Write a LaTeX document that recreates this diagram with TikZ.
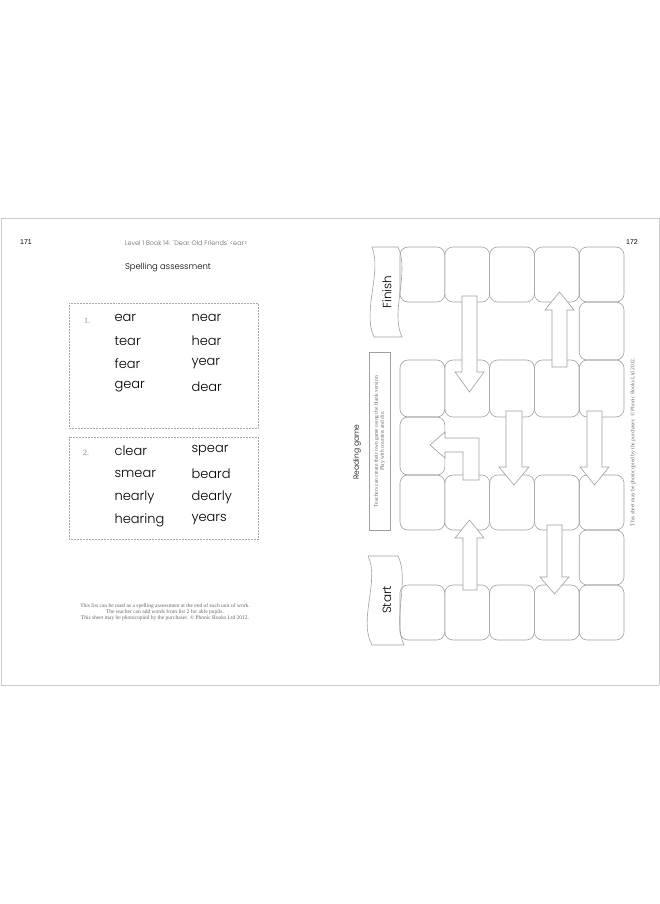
\documentclass[tikz,border=0pt]{standalone}
\usepackage{fontspec}
\setmainfont{Poppins}
\newfontfamily\tnr{Liberation Serif}
\newfontfamily\ars{Liberation Sans}
\tikzset{
  sq/.style={draw=gray!75, line width=0.6pt, rounded corners=8pt},
  blk/.style={draw=gray!75, line width=0.6pt, fill=white, line join=miter},
  word/.style={anchor=west, font=\fontsize{13}{15}\selectfont\light},
  tiny/.style={font=\tnr\fontsize{5.5}{7}\selectfont, text=gray!80!black, align=center},
  lbox/.style={draw=gray!70, densely dotted, line width=0.5pt},
}
\newcommand{\light}{\fontspec{Poppins Light}}
\begin{document}
\begin{tikzpicture}[x=1pt,y=-1pt]
\useasboundingbox (0,0) rectangle (660,904);
% page frame
\draw[gray!40, line width=0.8pt] (1,218) -- (659,218) (1,685) -- (659,685) (1,218) -- (1,685) (659,218) -- (659,685);
% left page
\node[font=\ars\fontsize{7}{8}\selectfont] (p171) at (26,242) {171};
\node[font=\fontsize{6.5}{8}\selectfont\light, text=gray!80!black] (head) at (186,243) {Level 1 Book 14: `Dear Old Friends' <ear>};
\node[font=\fontsize{8.5}{10}\selectfont\light] (title) at (168,267) {Spelling assessment};
\draw[lbox] (69,303) rectangle (258,428);
\draw[lbox] (69,437) rectangle (258,539);
\node[font=\tnr\fontsize{8}{9}\selectfont, text=gray] (n1) at (87,321) {1.};
\node[font=\tnr\fontsize{8}{9}\selectfont, text=gray] (n2) at (86,453) {2.};
\foreach \a/\b [count=\i] in {ear/near, tear/hear, fear/year, gear/dear}
  {\node[word] (wa\i) at (111,295+23*\i) {\a};
   \node[word] (wb\i) at (188,295+23*\i) {\b};}
\foreach \a/\b [count=\i] in {clear/spear, smear/beard, nearly/dearly, hearing/years}
  {\node[word] (wc\i) at (111,428+23*\i) {\a};
   \node[word] (wd\i) at (188,428+23*\i) {\b};}
\node[tiny] (foot) at (165,612) {This list can be used as a spelling assessment at the end of each unit of work.\\[-1pt]
  The teacher can add words from list 2 for able pupils.\\[-1pt]
  This sheet may be photocopied by the purchaser. \textcopyright\ Phonic Books Ltd 2012.};
% right page
\node[font=\ars\fontsize{7}{8}\selectfont] (p172) at (632,242) {172};
% board squares
\foreach \r/\h in {247/55, 360/57, 475/55, 585/55}
  \foreach \c in {0,...,4}
    \draw[sq] (400+44.8*\c,\r) rectangle +(44.8,\h);
\draw[sq] (579.2,302) rectangle +(44.8,58);
\draw[sq] (400,417) rectangle +(44.8,58);
\draw[sq] (579.2,530) rectangle +(44.8,55);
% arrows
\draw[blk] (462,296) -- (477,296) -- (477,372) -- (484,372) -- (469.5,392) -- (455,372) -- (462,372) -- cycle;
\draw[blk] (552,367) -- (567,367) -- (567,310) -- (574,310) -- (559.5,292) -- (545,310) -- (552,310) -- cycle;
\draw[blk] (463,480) -- (479,480) -- (479,438) -- (445,438) -- (445,432) -- (430,445) -- (445,458) -- (445,452) -- (463,452) -- cycle;
\draw[blk] (506,411) -- (522,411) -- (522,467) -- (529,467) -- (514,485) -- (499,467) -- (506,467) -- cycle;
\draw[blk] (587,411) -- (602,411) -- (602,467) -- (609,467) -- (594.5,485) -- (580,467) -- (587,467) -- cycle;
\draw[blk] (463,590) -- (477,590) -- (477,538) -- (484,538) -- (469.5,520) -- (455,538) -- (463,538) -- cycle;
\draw[blk] (547,525) -- (562,525) -- (562,577) -- (569,577) -- (554.5,594) -- (540,577) -- (547,577) -- cycle;
% banners
\draw[gray!75, line width=0.6pt] (372,247) -- (398,247) .. controls (410,272) and (390,312) .. (402,337)
  -- (374,337) .. controls (362,312) and (382,272) .. (372,247);
\node[rotate=90, font=\fontsize{12}{14}\selectfont\light] (finish) at (387,292) {Finish};
\draw[gray!75, line width=0.6pt] (368,556) -- (398,556) .. controls (410,580) and (392,620) .. (404,645)
  -- (372,645) .. controls (358,620) and (380,580) .. (368,556);
\node[rotate=90, font=\fontsize{12}{14}\selectfont\light] (start) at (387,600) {Start};
\node[rotate=90, font=\fontsize{7.5}{9}\selectfont\light] (rgame) at (357,452) {Reading game};
\draw[gray!75, line width=0.5pt] (369,352) rectangle (390,530);
\node[rotate=90, tiny] (note) at (379.5,441) {Teachers can create their own game using the blank version.\\[-1pt] Play with counters and die.};
\node[rotate=90, tiny] (copy) at (633,442) {This sheet may be photocopied by the purchaser. \textcopyright\ Phonic Books Ltd 2012.};
\end{tikzpicture}
\end{document}
